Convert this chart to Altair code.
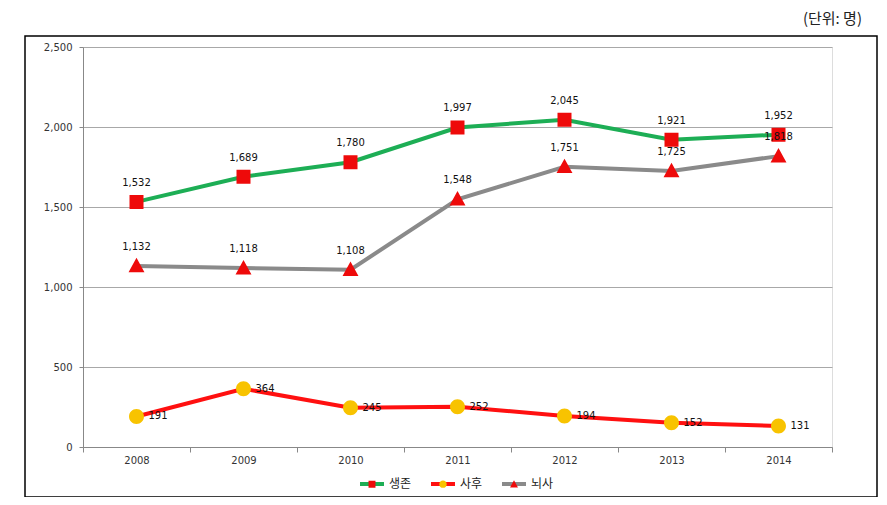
import altair as alt
import pandas as pd

years = ["2008", "2009", "2010", "2011", "2012", "2013", "2014"]
series_names = ["생존", "사후", "뇌사"]
survive_values = [1532, 1689, 1780, 1997, 2045, 1921, 1952]
after_values = [191, 364, 245, 252, 194, 152, 131]
brain_values = [1132, 1118, 1108, 1548, 1751, 1725, 1818]
y_ticks = [0, 500, 1000, 1500, 2000, 2500]
unit_text = "(단위: 명)"

line_colors = ["#1dae55", "#ff1010", "#8a8a8a"]
marker_colors = ["#ee0a0a", "#f8c300", "#ee0a0a"]
line_widths = [4, 4, 5.5]
marker_paths = [
    "M-1,0H1M-0.29,-0.29H0.29V0.29H-0.29Z",
    "M-1,0H1M0.31,0A0.31,0.31,0,1,1,-0.31,0A0.31,0.31,0,1,1,0.31,0Z",
    "M-1,0H1M0,-0.34L0.33,0.26H-0.33Z",
]

rows = []
for name, vals in zip(series_names, [survive_values, after_values, brain_values]):
    for yr, v in zip(years, vals):
        rows.append({"year": yr, "series": name, "value": v})
df = pd.DataFrame(rows)

FONT = "DejaVu Sans"
KFONT = "Noto Sans CJK KR"
LEG_X, LEG_Y = 275, 423

x_enc = alt.X(
    "year:O",
    scale=alt.Scale(type="band", domain=years, paddingInner=0, paddingOuter=0),
    axis=alt.Axis(
        title=None, labelAngle=0, tickBand="extent", domainColor="#888888",
        tickColor="#888888", tickSize=5, labelPadding=3, labelFont=FONT,
        labelFontSize=10, labelColor="#333333", grid=False,
    ),
)
y_enc = alt.Y(
    "value:Q",
    scale=alt.Scale(domain=[0, 2500], nice=False),
    axis=alt.Axis(
        title=None, values=y_ticks, format=",d", grid=True, gridColor="#a8a8a8",
        domainColor="#888888", tickColor="#888888", tickSize=4, labelPadding=7,
        labelFont=FONT, labelFontSize=10, labelColor="#333333",
    ),
)

legend_common = dict(
    title=None, orient="none", legendX=LEG_X, legendY=LEG_Y, direction="horizontal",
    symbolSize=576, symbolStrokeWidth=4, labelFont=KFONT, labelFontSize=12,
    labelOffset=3, columnPadding=11,
)

base = alt.Chart(df)

lines = base.mark_line(strokeCap="butt").encode(
    x=x_enc,
    y=y_enc,
    detail="series:N",
    stroke=alt.Stroke(
        "series:N",
        scale=alt.Scale(domain=series_names, range=line_colors),
        legend=alt.Legend(
            symbolType="M-1,0H1", symbolFillColor="transparent", labelOpacity=0,
            labelColor="#222222", zindex=0, **legend_common,
        ),
    ),
    strokeWidth=alt.StrokeWidth(
        "series:N", scale=alt.Scale(domain=series_names, range=line_widths), legend=None
    ),
)

points = base.mark_point(filled=True, opacity=1, size=2330, strokeWidth=0).encode(
    x=x_enc,
    y=y_enc,
    fill=alt.Fill(
        "series:N",
        scale=alt.Scale(domain=series_names, range=marker_colors),
        legend=alt.Legend(
            symbolStrokeColor="transparent", symbolOpacity=1, labelColor="#222222",
            zindex=1, **legend_common,
        ),
    ),
    shape=alt.Shape(
        "series:N",
        scale=alt.Scale(domain=series_names, range=marker_paths),
        legend=alt.Legend(
            symbolStrokeColor="transparent", symbolOpacity=1, labelColor="#222222",
            zindex=1, **legend_common,
        ),
    ),
)

labels_top = base.transform_filter(
    alt.FieldOneOfPredicate(field="series", oneOf=[series_names[0], series_names[2]])
).mark_text(font=FONT, fontSize=10, color="#111111", dy=-19, align="center", baseline="middle").encode(
    x=x_enc, y=y_enc, text=alt.Text("value:Q", format=",")
)

labels_right = base.transform_filter(
    alt.FieldEqualPredicate(field="series", equal=series_names[1])
).mark_text(font=FONT, fontSize=10, color="#111111", dx=12, align="left", baseline="middle").encode(
    x=x_enc, y=y_enc, text=alt.Text("value:Q", format=",")
)

frame = alt.Chart(pd.DataFrame({"k": [0]})).mark_rect(
    fill="transparent", stroke="#000000", strokeWidth=1.5
).encode(
    x=alt.value(-58), x2=alt.value(794), y=alt.value(-11), y2=alt.value(450)
)

chart = alt.layer(frame, lines, points, labels_top, labels_right).resolve_scale(
    stroke="independent", fill="independent", shape="independent"
).resolve_legend(
    stroke="independent", fill="independent", shape="independent"
).properties(
    width=749, height=400,
    autosize=alt.AutoSizeParams(type="none"),
    padding={"left": 75, "top": 39, "right": 47, "bottom": 50},
    title=alt.TitleParams(
        unit_text, anchor="end", frame="group", orient="top", dx=30, offset=8,
        font=KFONT, fontSize=15, fontWeight="normal", color="#222222",
    ),
).configure_view(stroke=None).configure(background="white")

chart.save("out.html", embed_options={"renderer": "svg", "actions": False})
